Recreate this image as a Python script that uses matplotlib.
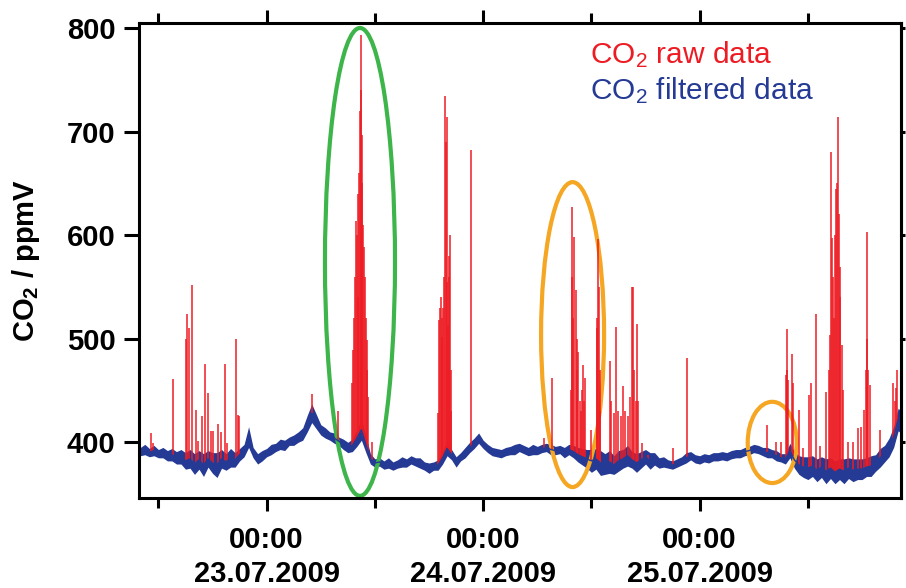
import matplotlib
matplotlib.use("Agg")
import matplotlib.pyplot as plt
import matplotlib.dates as mdates
from matplotlib.patches import Ellipse
import numpy as np

plt.rcParams['font.family'] = ['Liberation Sans', 'DejaVu Sans']
plt.rcParams['mathtext.default'] = 'regular'

# filtered CO2 (ppmV), every 30 min from 22.07.2009 10:00
blue_start_hour = 10.0
blue_mid = [
    391, 393, 390, 392, 389, 390, 387, 388, 385, 386,
    382, 384, 379, 383, 378, 384, 380, 378, 384, 381,
    385, 383, 388, 392, 405, 390, 384, 387, 390, 393,
    395, 398, 397, 401, 402, 405, 408, 418, 428, 420,
    412, 409, 406, 404, 401, 398, 395, 397, 404, 412,
    398, 384, 380, 381, 378, 380, 377, 379, 381, 380,
    383, 381, 380, 377, 375, 377, 378, 385, 394, 388,
    381, 386, 390, 395, 399, 404, 398, 394, 391, 390,
    389, 391, 392, 393, 395, 393, 391, 393, 392, 394,
    395, 393, 392, 393, 390, 393, 391, 388, 386, 384,
    382, 384, 380, 379, 381, 378, 382, 384, 387, 383,
    380, 383, 386, 382, 384, 380, 381, 379, 378, 380,
    382, 385, 387, 384, 383, 385, 384, 386, 386, 387,
    386, 388, 389, 389, 391, 392, 394, 393, 391, 390,
    389, 387, 385, 384, 392, 383, 378, 376, 375, 377,
    373, 376, 372, 375, 371, 374, 372, 375, 373, 374,
    374, 376, 377, 380, 385, 389, 395, 405, 422, 418,
]
# half width of the noisy band (ppmV)
blue_spread = [
    4, 5, 4, 5, 4, 5, 5, 6, 6, 7,
    8, 9, 10, 9, 11, 8, 10, 12, 9, 8,
    9, 7, 6, 6, 10, 5, 5, 5, 4, 5,
    4, 5, 5, 4, 5, 5, 6, 8, 9, 7,
    5, 5, 4, 5, 4, 5, 5, 6, 8, 10,
    8, 5, 4, 4, 4, 5, 4, 4, 5, 4,
    4, 4, 5, 4, 5, 4, 5, 6, 7, 5,
    5, 4, 5, 5, 5, 5, 4, 4, 4, 4,
    4, 4, 4, 5, 4, 4, 4, 5, 4, 4,
    4, 5, 4, 4, 5, 5, 6, 7, 8, 9,
    11, 10, 12, 10, 11, 9, 10, 9, 10, 8,
    9, 8, 7, 8, 6, 5, 5, 4, 4, 4,
    4, 5, 4, 4, 4, 4, 4, 4, 4, 4,
    4, 4, 4, 4, 4, 4, 4, 4, 4, 5,
    4, 5, 4, 5, 7, 8, 9, 10, 11, 10,
    11, 10, 12, 10, 11, 10, 12, 10, 11, 10,
    10, 9, 10, 8, 9, 8, 9, 10, 11, 10,
]

# raw data spikes: hours after 22.07.2009 00:00 and peak value (ppmV)
spike_hours = [
    11.14, 11.43, 13.58, 15.02, 15.20, 15.39, 15.69, 16.13, 16.42, 16.86,
    17.16, 17.46, 17.83, 18.08, 18.63, 18.90, 19.38, 19.63, 20.60, 20.85,
    20.96, 29.0, 31.9,
    33.49, 33.60, 33.70, 33.80, 33.90, 34.00, 34.09, 34.16, 34.25, 34.35,
    34.42, 34.48, 34.53, 34.60, 34.70, 34.79, 34.90, 35.00, 35.09, 35.17,
    35.26, 35.64,
    43.02, 43.13, 43.20, 43.32, 43.40, 43.47, 43.55, 43.65, 43.77, 43.85,
    43.95, 44.02, 44.13, 44.20, 44.25, 44.32, 44.40, 44.45, 46.61,
    54.70, 55.59, 57.70, 57.81, 57.90, 58.00, 58.10, 58.25, 58.35, 58.40,
    58.54, 58.70, 58.85, 59.00, 59.10, 59.20, 59.29, 59.92, 60.58, 60.65,
    60.76, 60.82, 60.90, 61.00, 62.06, 62.20, 62.53, 62.72, 62.90, 63.30,
    63.53, 63.70, 64.00, 64.27, 64.46, 64.64, 64.75, 64.90, 65.08, 65.20,
    65.57, 66.23, 69.0, 70.6,
    79.43, 80.43, 80.98, 81.57, 81.65, 81.71, 81.80, 82.20, 82.31, 83.04,
    83.48, 84.15, 84.34, 84.93, 85.29, 86.03, 86.35, 86.47, 86.58, 86.69,
    86.80, 86.90, 87.00, 87.13, 87.20, 87.31, 87.40, 87.50, 87.60, 87.74,
    87.90, 88.47, 88.96, 89.59, 89.85, 90.25, 90.40, 90.51, 90.60, 90.70,
    90.88, 91.99, 93.46, 93.60, 93.76, 93.90,
]
spike_peaks = [
    409, 399, 461, 500, 524, 510, 552, 431, 401, 425,
    476, 448, 411, 411, 418, 410, 476, 399, 500, 426,
    425, 447, 430,
    457, 489, 520, 560, 614, 600, 540, 640, 660, 720,
    793, 740, 697, 650, 610, 589, 560, 520, 499, 470,
    444, 400,
    428, 518, 530, 540, 520, 502, 530, 560, 734, 690,
    714, 555, 513, 560, 580, 600, 470, 430, 682,
    404, 462, 450, 627, 560, 520, 598, 547, 500, 470,
    487, 440, 430, 450, 475, 440, 462, 412, 510, 520,
    596, 550, 470, 430, 478, 440, 428, 511, 430, 425,
    454, 430, 425, 444, 550, 550, 470, 440, 514, 440,
    399, 388, 394, 481,
    417, 400, 400, 465, 470, 509, 460, 485, 457, 431,
    394, 446, 457, 524, 396, 449, 470, 504, 680, 597,
    560, 520, 600, 645, 650, 714, 620, 569, 540, 494,
    450, 400, 400, 414, 415, 431, 470, 603, 500, 470,
    455, 412, 457, 440, 452, 470,
]

y_ticks = [400, 500, 600, 700, 800]
raw_label = 'CO$_2$ raw data'
filt_label = 'CO$_2$ filtered data'

red = '#ED1C24'
blue = '#243A94'
green = '#3DB54A'
orange = '#F5A623'

t0 = np.datetime64('2009-07-22T00:00')
blue_hours = blue_start_hour + 0.5 * np.arange(len(blue_mid))
blue_t = t0 + (blue_hours * 60).astype('timedelta64[m]')
mid = np.array(blue_mid, dtype=float)
spr = np.array(blue_spread, dtype=float)

sh = np.array(spike_hours)
spike_t = t0 + (sh * 60).astype('timedelta64[m]')
spike_base = np.interp(sh, blue_hours, mid)

fig = plt.figure(figsize=(9.06, 5.88), dpi=100)
ax = fig.add_axes([139 / 906, 90 / 588, 762 / 906, 475 / 588])

ax.vlines(spike_t, spike_base, spike_peaks, color=red, lw=1.1)
ax.fill_between(blue_t, mid - spr, mid + spr, color=blue, lw=0)
ax.plot(blue_t, mid, color=blue, lw=1.0)

ax.set_xlim(np.datetime64('2009-07-22T09:51'), np.datetime64('2009-07-25T22:19'))
ax.set_ylim(346.2, 804.8)

ax.xaxis.set_major_locator(mdates.DayLocator())
ax.xaxis.set_minor_locator(mdates.HourLocator(byhour=[12]))
ax.xaxis.set_major_formatter(mdates.DateFormatter('%H:%M\n%d.%m.%Y'))
ax.set_yticks(y_ticks)

for s in ax.spines.values():
    s.set_linewidth(2.2)

ax.tick_params(axis='x', which='major', direction='out', length=9.5, width=2.2,
               pad=11, top=True, labelsize=21)
ax.tick_params(axis='x', which='minor', direction='out', length=7, width=2.2, top=True)
ax.tick_params(axis='y', which='major', direction='out', length=11, width=2.2,
               pad=6, labelsize=21)
for lab in ax.get_xticklabels() + ax.get_yticklabels():
    lab.set_fontweight('bold')
    lab.set_linespacing(1.25)

sec = ax.secondary_yaxis('right')
sec.set_yticks(y_ticks)
sec.tick_params(direction='out', length=3, width=2.2, labelright=False)
sec.spines['right'].set_linewidth(2.2)

ax.set_ylabel('CO$_2$ / ppmV', fontsize=21, fontweight='bold')
ax.yaxis.set_label_coords(-0.127, 0.5)

ax.add_patch(Ellipse((0.290, 0.497), 0.0919, 0.985, transform=ax.transAxes,
                     fill=False, ec=green, lw=3, clip_on=False))
ax.add_patch(Ellipse((0.569, 0.344), 0.0827, 0.642, transform=ax.transAxes,
                     fill=False, ec=orange, lw=3, clip_on=False))
ax.add_patch(Ellipse((0.831, 0.117), 0.0643, 0.171, transform=ax.transAxes,
                     fill=False, ec=orange, lw=3, clip_on=False))

fig.text(590 / 906, 1 - 63 / 588, raw_label, color=red, fontsize=21.5, va='baseline')
fig.text(590 / 906, 1 - 99 / 588, filt_label, color=blue, fontsize=21.5, va='baseline')

fig.savefig('out.png', dpi=100)
